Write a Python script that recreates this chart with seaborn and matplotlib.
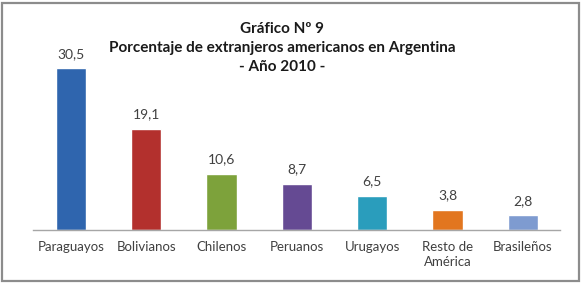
import matplotlib
matplotlib.use("Agg")
import matplotlib.pyplot as plt
import seaborn as sns
import pandas as pd
from matplotlib.patches import Rectangle

# data
categorias = ["Paraguayos", "Bolivianos", "Chilenos", "Peruanos", "Urugayos", "Resto de\nAmérica", "Brasileños"]
porcentajes = [30.5, 19.1, 10.6, 8.7, 6.5, 3.8, 2.8]
colores = ["#2F65AE", "#B3302D", "#7DA23B", "#654A93", "#2A9DBC", "#E2761F", "#7E9BD0"]

sns.set_theme(style="white")
plt.rcParams['font.family'] = ['Lato', 'DejaVu Sans']

df = pd.DataFrame({"categoria": categorias, "porcentaje": porcentajes})

fig = plt.figure(figsize=(5.82, 2.83), dpi=100)
ax = fig.add_axes([0.057, 0.187, 0.906, 0.657])

sns.barplot(data=df, x="categoria", y="porcentaje", hue="categoria",
            palette=colores, width=0.4, legend=False, ax=ax, saturation=1)

ax.set_ylim(0, 35)
ax.set_xlabel("")
ax.set_ylabel("")
ax.set_yticks([])
for s in ["top", "right", "left"]:
    ax.spines[s].set_visible(False)
ax.spines["bottom"].set_color("#A6A6A6")
ax.spines["bottom"].set_linewidth(1.0)
ax.tick_params(axis="x", length=0, pad=8, labelsize=9.5, colors="#404040")
for lbl in ax.get_xticklabels():
    lbl.set_linespacing(1.3)

for cont in ax.containers:
    ax.bar_label(cont, labels=[f"{v:.1f}".replace(".", ",") for v in cont.datavalues],
                 padding=6, fontsize=10, color="#404040")

fig.text(0.485, 0.830, "Gráfico Nº 9\nPorcentaje de extranjeros americanos en Argentina\n- Año 2010 -",
         ha="center", va="center", fontsize=11, fontweight="bold", color="#1A1A1A",
         linespacing=1.42)

# gray frame around the chart area
fig.patches.append(Rectangle((0.004, 0.006), 0.991, 0.985, transform=fig.transFigure,
                             fill=False, edgecolor="#8C8C8C", linewidth=1.6))

fig.savefig("out.png", dpi=100)
